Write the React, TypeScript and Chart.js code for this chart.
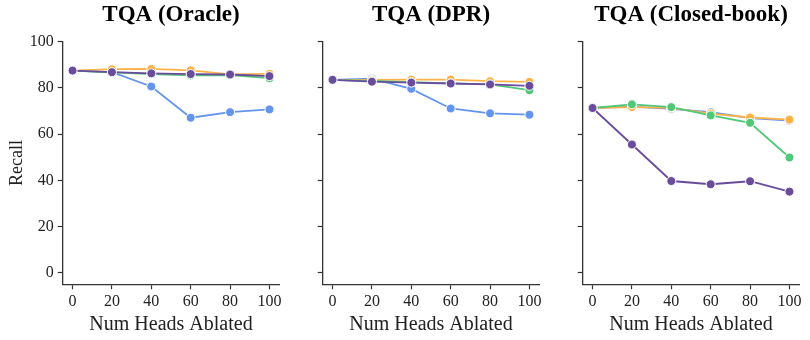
import React, { useEffect, useRef } from "react";
import { Chart, registerables } from "chart.js";

Chart.register(...registerables);

const xValues = [0, 20, 40, 60, 80, 100];
const xTicks = [0, 20, 40, 60, 80, 100];
const yTicks = [0, 20, 40, 60, 80, 100];
const panelTitles = ["TQA (Oracle)", "TQA (DPR)", "TQA (Closed-book)"];

const seriesColors = ["#6495ED", "#FFB347", "#50C878", "#6A4C9C"];

// Oracle
const oracleBlue = [87.5, 86.8, 80.6, 67.1, 69.5, 70.7];
const oracleOrange = [87.5, 88.1, 88.2, 87.6, 85.9, 86.1];
const oracleGreen = [87.5, 86.7, 86.0, 85.4, 85.5, 84.2];
const oraclePurple = [87.5, 86.8, 86.3, 86.0, 85.8, 85.1];

// DPR
const dprBlue = [83.5, 84.0, 79.6, 71.1, 69.0, 68.4];
const dprOrange = [83.5, 83.5, 83.6, 83.6, 82.9, 82.6];
const dprGreen = [83.5, 83.0, 82.5, 82.0, 81.5, 79.0];
const dprPurple = [83.5, 82.7, 82.3, 81.9, 81.5, 80.9];

// Closed-book
const cbBlue = [71.3, 71.9, 70.9, 69.5, 66.9, 65.9];
const cbOrange = [71.3, 71.7, 71.4, 68.9, 67.2, 66.3];
const cbGreen = [71.3, 72.9, 71.7, 68.1, 64.9, 49.9];
const cbPurple = [71.3, 55.5, 39.7, 38.3, 39.6, 35.1];

const panelSeries = [
  [oracleBlue, oracleOrange, oracleGreen, oraclePurple],
  [dprBlue, dprOrange, dprGreen, dprPurple],
  [cbBlue, cbOrange, cbGreen, cbPurple],
];

const FONT = "'Liberation Serif', 'Times New Roman', serif";
const SPINE = "#333333";

const centeredTitle = {
  id: "centeredTitle",
  afterDraw(chart: any, _args: any, opts: any) {
    const { ctx, chartArea } = chart;
    ctx.save();
    ctx.font = `bold ${opts.size}px ${FONT}`;
    ctx.fillStyle = "#000";
    ctx.textAlign = "center";
    ctx.textBaseline = "middle";
    ctx.fillText(opts.text, (chartArea.left + chartArea.right) / 2, opts.y);
    ctx.restore();
  },
};

type PanelProps = { index: number; left: number; width: number; yWidth: number; padRight: number; showY: boolean };

function Panel({ index, left, width, yWidth, padRight, showY }: PanelProps) {
  const ref = useRef<HTMLCanvasElement | null>(null);
  useEffect(() => {
    if (!ref.current) return;
    const datasets = panelSeries[index].map((vals, i) => ({
      data: xValues.map((x, j) => ({ x, y: vals[j] })),
      borderColor: seriesColors[i],
      backgroundColor: seriesColors[i],
      pointBackgroundColor: seriesColors[i],
      pointBorderColor: "#ffffff",
      pointBorderWidth: 1,
      pointRadius: 4.5,
      borderWidth: 1.8,
      tension: 0,
      order: 4 - i,
    }));
    const chart = new Chart(ref.current, {
      type: "line",
      data: { datasets },
      plugins: [centeredTitle],
      options: {
        animation: false,
        responsive: false,
        maintainAspectRatio: false,
        layout: { padding: { left: 0, right: padRight, top: 41.7, bottom: 0 } },
        plugins: {
          legend: { display: false },
          tooltip: { enabled: false },
          title: { display: false },
          centeredTitle: { text: panelTitles[index], size: 23, y: 15.5 },
        },
        scales: {
          x: {
            type: "linear",
            min: -5,
            max: 105,
            afterBuildTicks: (s: any) => {
              s.ticks = xTicks.map((v) => ({ value: v }));
            },
            afterFit: (s: any) => {
              s.height = 55.7;
              s.paddingLeft = 0;
              s.paddingRight = 0;
            },
            grid: { drawOnChartArea: false, drawTicks: true, tickLength: 5, tickWidth: 1.2, tickColor: SPINE },
            border: { display: true, color: SPINE, width: 1.3 },
            ticks: { color: "#222", font: { family: FONT, size: 16 }, padding: 3, maxRotation: 0, autoSkip: false },
            title: {
              display: true,
              text: "Num Heads Ablated",
              color: "#222",
              font: { family: FONT, size: 20 },
              padding: { top: 0, bottom: 3 },
            },
          },
          y: {
            type: "linear",
            min: -5,
            max: 100,
            afterBuildTicks: (s: any) => {
              s.ticks = yTicks.map((v) => ({ value: v }));
            },
            afterFit: (s: any) => {
              s.width = yWidth;
              s.paddingTop = 0;
              s.paddingBottom = 0;
            },
            grid: { drawOnChartArea: false, drawTicks: true, tickLength: 5, tickWidth: 1.2, tickColor: SPINE },
            border: { display: true, color: SPINE, width: 1.3 },
            ticks: { display: showY, color: "#222", font: { family: FONT, size: 16 }, padding: 4 },
            title: {
              display: showY,
              text: "Recall",
              color: "#222",
              font: { family: FONT, size: 18 },
              padding: { top: 6, bottom: 0 },
            },
          },
        },
      },
    } as any);
    return () => chart.destroy();
  }, [index, yWidth, padRight, showY]);
  return (
    <canvas
      ref={ref}
      width={width}
      height={340}
      style={{ position: "absolute", left, top: 0, width, height: 340 }}
    />
  );
}

export default function App() {
  useEffect(() => {
    document.body.style.margin = "0";
  }, []);
  return (
    <div style={{ position: "relative", width: 810, height: 340, background: "#fff", overflow: "hidden" }}>
      <Panel index={0} left={0} width={300} yWidth={62.7} padRight={20.7} showY={true} />
      <Panel index={1} left={310} width={240} yWidth={12.7} padRight={10.7} showY={false} />
      <Panel index={2} left={570} width={240} yWidth={12.7} padRight={10.7} showY={false} />
    </div>
  );
}
